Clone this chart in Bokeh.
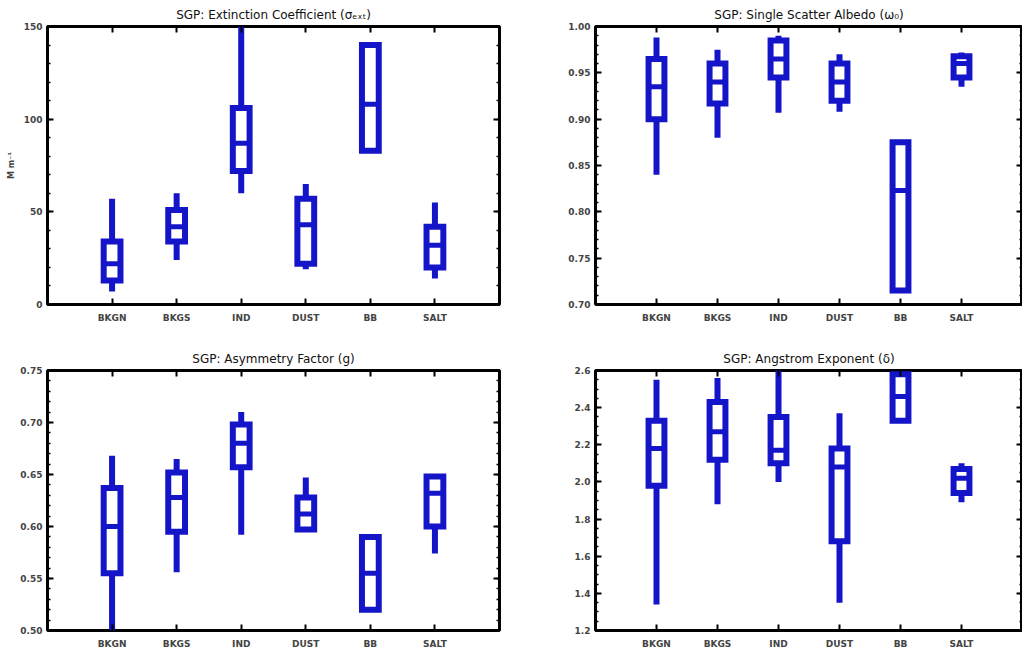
from bokeh.plotting import figure
from bokeh.layouts import column, row
from bokeh.models import LinearAxis, FixedTicker, Range1d
from bokeh.embed import file_html
from bokeh.resources import INLINE

CATS = ['BKGN', 'BKGS', 'IND', 'DUST', 'BB', 'SALT']

# min, q1, median, q3, max per category
ext_min = [7, 24, 60, 19, 83, 14]
ext_q1 = [13, 34, 72, 22, 83, 20]
ext_med = [22, 42, 87, 43, 108, 32]
ext_q3 = [34, 51, 106, 57, 140, 42]
ext_max = [57, 60, 150, 65, 140, 55]

ssa_min = [0.840, 0.880, 0.907, 0.908, 0.715, 0.935]
ssa_q1 = [0.900, 0.917, 0.945, 0.920, 0.715, 0.945]
ssa_med = [0.935, 0.940, 0.965, 0.940, 0.823, 0.960]
ssa_q3 = [0.965, 0.960, 0.985, 0.960, 0.875, 0.968]
ssa_max = [0.988, 0.975, 0.990, 0.970, 0.875, 0.972]

asy_min = [0.500, 0.556, 0.592, 0.595, 0.520, 0.574]
asy_q1 = [0.555, 0.595, 0.657, 0.597, 0.520, 0.600]
asy_med = [0.600, 0.628, 0.680, 0.612, 0.555, 0.632]
asy_q3 = [0.637, 0.652, 0.698, 0.628, 0.590, 0.648]
asy_max = [0.668, 0.665, 0.710, 0.647, 0.590, 0.650]

ang_min = [1.34, 1.88, 2.00, 1.35, 2.33, 1.89]
ang_q1 = [1.98, 2.12, 2.10, 1.68, 2.33, 1.94]
ang_med = [2.18, 2.27, 2.17, 2.08, 2.46, 2.02]
ang_q3 = [2.33, 2.43, 2.35, 2.18, 2.58, 2.07]
ang_max = [2.55, 2.56, 2.60, 2.37, 2.58, 2.10]

BLUE = '#1414c8'
FONT = 'DejaVu Sans'


def box_panel(title, lo, q1, med, q3, hi, yr, yticks, minor, fmt_dec,
              width, height, bl, br, bt, bb, ylabel=None):
    p = figure(width=width, height=height, output_backend="svg",
               toolbar_location=None, x_range=Range1d(0, 7),
               y_range=Range1d(*yr), title=title,
               min_border_left=bl, min_border_right=br,
               min_border_top=bt, min_border_bottom=bb)
    p.title.align = 'center'
    p.title.text_font = FONT
    p.title.text_font_style = 'normal'
    p.title.text_font_size = '12px'
    p.title.text_color = '#111111'
    p.grid.visible = False
    p.outline_line_color = 'black'
    p.outline_line_width = 3

    xs = list(range(1, len(CATS) + 1))
    p.segment(x0=xs, y0=lo, x1=xs, y1=hi, line_color=BLUE, line_width=6)
    p.quad(left=[x - 0.13 for x in xs], right=[x + 0.13 for x in xs],
           bottom=q1, top=q3, fill_color='white', line_color=BLUE,
           line_width=6, line_join='miter')
    p.segment(x0=[x - 0.13 for x in xs], y0=med, x1=[x + 0.13 for x in xs],
              y1=med, line_color=BLUE, line_width=5)

    p.xaxis.ticker = FixedTicker(ticks=xs)
    p.xaxis.major_label_overrides = {x: c for x, c in zip(xs, CATS)}
    p.yaxis.ticker = FixedTicker(ticks=yticks, minor_ticks=minor)
    p.yaxis.major_label_overrides = {t: ('%.' + str(fmt_dec) + 'f') % t
                                     for t in yticks}
    for ax in (p.xaxis[0], p.yaxis[0]):
        ax.axis_line_color = None
        ax.major_tick_in = 6
        ax.major_tick_out = 0
        ax.minor_tick_in = 3
        ax.minor_tick_out = 0
        ax.major_tick_line_width = 2
        ax.minor_tick_line_width = 1.5
        ax.major_label_text_font = FONT
        ax.major_label_text_font_style = 'bold'
        ax.major_label_text_font_size = '9px'
    p.xaxis.minor_tick_line_color = None
    p.xaxis.major_label_standoff = 8
    if ylabel:
        p.yaxis.axis_label = ylabel
        p.yaxis.axis_label_text_font = FONT
        p.yaxis.axis_label_text_font_size = '8px'
        p.yaxis.axis_label_text_font_style = 'bold'

    # mirrored ticks on top and right, no labels
    top = LinearAxis(ticker=FixedTicker(ticks=xs), axis_line_color=None,
                     major_tick_in=6, major_tick_out=0,
                     major_tick_line_width=2,
                     major_label_overrides={x: '' for x in xs},
                     major_label_standoff=0,
                     minor_tick_line_color=None)
    right = LinearAxis(ticker=FixedTicker(ticks=yticks, minor_ticks=minor),
                       axis_line_color=None, major_tick_in=6,
                       major_tick_out=0, minor_tick_in=3, minor_tick_out=0,
                       major_tick_line_width=2, minor_tick_line_width=1.5,
                       major_label_overrides={t: '' for t in yticks},
                       major_label_standoff=0)
    p.add_layout(top, 'above')
    p.add_layout(right, 'right')
    return p


def frange(a, b, s):
    out = []
    v = a
    while v <= b + 1e-9:
        out.append(round(v, 4))
        v += s
    return out


p1 = box_panel('SGP: Extinction Coefficient (σₑₓₜ)',
               ext_min, ext_q1, ext_med, ext_q3, ext_max, (0, 150),
               [0, 50, 100, 150], frange(0, 150, 10), 0,
               505, 330, 47, 6, 24, 26, ylabel='M m⁻¹')
p2 = box_panel('SGP: Single Scatter Albedo (ω₀)',
               ssa_min, ssa_q1, ssa_med, ssa_q3, ssa_max, (0.70, 1.00),
               frange(0.70, 1.00, 0.05), frange(0.70, 1.00, 0.01), 2,
               517, 330, 90, 0, 24, 26)
p3 = box_panel('SGP: Asymmetry Factor (g)',
               asy_min, asy_q1, asy_med, asy_q3, asy_max, (0.50, 0.75),
               frange(0.50, 0.75, 0.05), frange(0.50, 0.75, 0.01), 2,
               505, 322, 47, 6, 40, 22)
p4 = box_panel('SGP: Angstrom Exponent (δ)',
               ang_min, ang_q1, ang_med, ang_q3, ang_max, (1.2, 2.6),
               frange(1.2, 2.6, 0.2), frange(1.2, 2.6, 0.05), 1,
               517, 322, 90, 0, 40, 22)

layout = column(row(p1, p2, spacing=0), row(p3, p4, spacing=0), spacing=0)
open("out.html", "w").write(file_html(layout, INLINE))
